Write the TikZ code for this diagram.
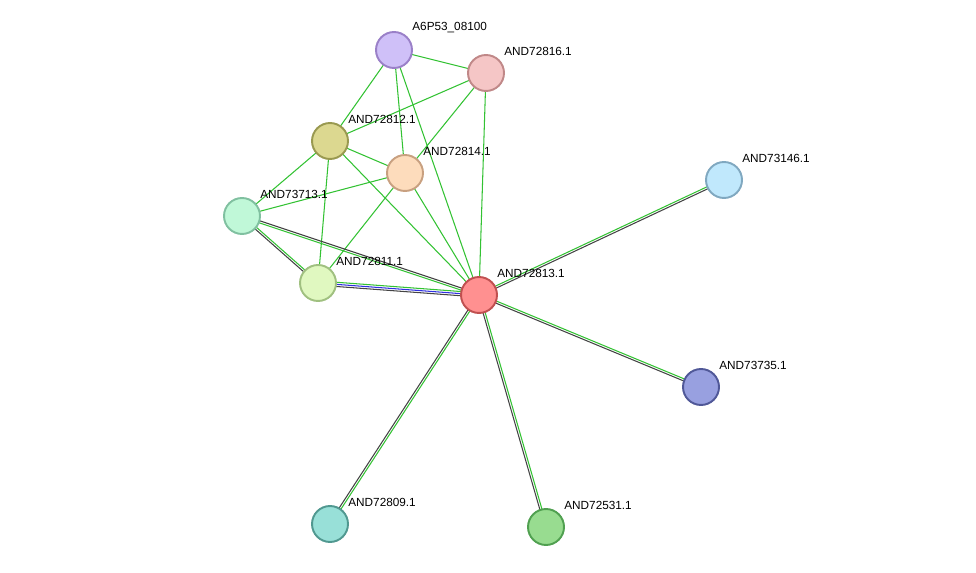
\documentclass[tikz,border=0pt]{standalone}
\usepackage{fontspec}
\setmainfont{Liberation Sans}
\usetikzlibrary{calc}
\tikzset{
  every node/.style = {font = \fontsize{6.7}{8}\selectfont},
  prot/.style = {circle, minimum size=0.72cm, line width=1.1pt, inner sep=0pt},
  lbl/.style = {anchor=south west, inner sep=0pt},
}
\definecolor{eGreen}{HTML}{33C233}
\definecolor{eDark}{HTML}{444444}
\definecolor{eBlue}{HTML}{3030E0}
\definecolor{f1}{HTML}{CFC0F8}\definecolor{d1}{HTML}{9A80C8}
\definecolor{f2}{HTML}{F5C6C6}\definecolor{d2}{HTML}{C08888}
\definecolor{f3}{HTML}{DCD890}\definecolor{d3}{HTML}{999950}
\definecolor{f4}{HTML}{FDDCBC}\definecolor{d4}{HTML}{C8A080}
\definecolor{f5}{HTML}{C0F8D8}\definecolor{d5}{HTML}{80C0A0}
\definecolor{f6}{HTML}{E0F8C0}\definecolor{d6}{HTML}{A0C080}
\definecolor{f7}{HTML}{FF9090}\definecolor{d7}{HTML}{C05050}
\definecolor{f8}{HTML}{C0E8FC}\definecolor{d8}{HTML}{80A8C0}
\definecolor{f9}{HTML}{98A0E0}\definecolor{d9}{HTML}{505898}
\definecolor{f10}{HTML}{98E0D8}\definecolor{d10}{HTML}{509890}
\definecolor{f11}{HTML}{98DC90}\definecolor{d11}{HTML}{50A050}
% offset edge: \edge{from}{to}{shift}{colour}
\newcommand{\edge}[4]{\draw[#4, line width=0.6pt] ($(#1)!#3!90:(#2)$) -- ($(#2)!#3!-90:(#1)$);}

\begin{document}
\begin{tikzpicture}[x=0.02cm, y=-0.02cm]
\useasboundingbox (0,0) rectangle (976,573);

% Proteins
\coordinate (P1) at (394,50);
\coordinate (P2) at (486,73);
\coordinate (P3) at (330,141);
\coordinate (P4) at (405,173);
\coordinate (P5) at (242,216);
\coordinate (P6) at (318,283);
\coordinate (P7) at (479,295);
\coordinate (P8) at (724,180);
\coordinate (P9) at (701,387);
\coordinate (P10) at (330,524);
\coordinate (P11) at (546,527);

% Single green edges
\foreach \a/\b in {P1/P2,P1/P3,P1/P4,P1/P7,P2/P3,P2/P4,P2/P7,P3/P4,P3/P5,P3/P6,P3/P7,P4/P5,P4/P6,P4/P7}
  \draw[eGreen, line width=0.6pt] (\a) -- (\b);

% Double edges
\foreach \b in {P8,P9,P10,P11,P5}{
  \edge{P7}{\b}{0.6pt}{eGreen}
  \edge{P7}{\b}{-0.6pt}{eDark}
}
\edge{P5}{P6}{0.6pt}{eGreen}
\edge{P5}{P6}{-0.6pt}{eDark}
\edge{P6}{P7}{1.2pt}{eGreen}
\edge{P6}{P7}{0pt}{eBlue}
\edge{P6}{P7}{-1.2pt}{eDark}

% Nodes
\foreach \i in {1,...,11}
  \node[prot, fill=f\i, draw=d\i] (n\i) at (P\i) {};

% Labels
\foreach \n/\t in {P1/A6P53\_08100,P2/AND72816.1,P3/AND72812.1,P4/AND72814.1,P5/AND73713.1,P6/AND72811.1,P7/AND72813.1,P8/AND73146.1,P9/AND73735.1,P10/AND72809.1,P11/AND72531.1}
  \node[lbl] at ($(\n)+(18,-17)$) {\t};
\end{tikzpicture}
\end{document}
